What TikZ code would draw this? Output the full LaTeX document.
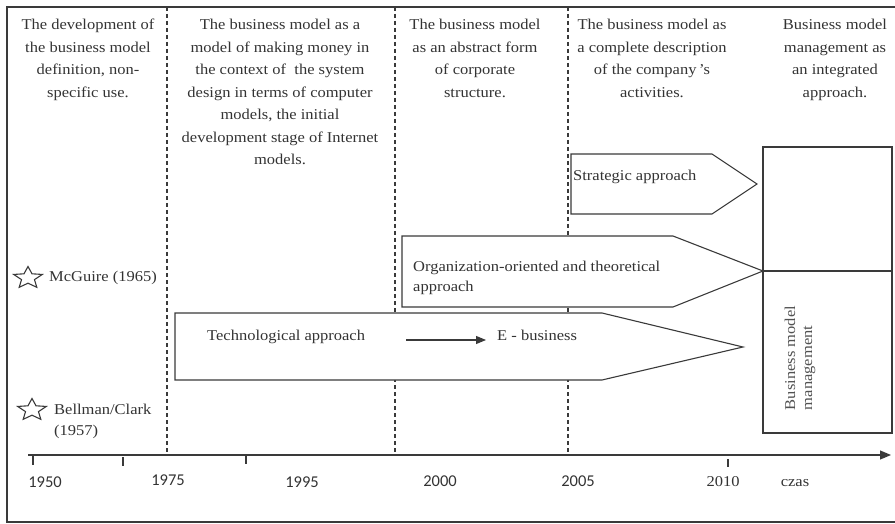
\documentclass[tikz,border=0pt]{standalone}
\usepackage{fontspec}
\setmainfont{Liberation Serif}[FakeStretch=1.1]
\newfontfamily\calib{Carlito}
\usetikzlibrary{arrows.meta}
\definecolor{ink}{HTML}{333333}
\definecolor{edge}{HTML}{3A3A3A}
\begin{document}
\begin{tikzpicture}[x=1pt, y=-1pt, line join=miter,
  font=\fontsize{15}{22.5}\selectfont, text=ink,
  hdr/.style={anchor=north, align=center, inner sep=0pt},
  lbl/.style={anchor=base west, inner sep=0pt},
  yr/.style={anchor=base, inner sep=0pt, font=\calib\fontsize{16.5}{20}\selectfont},
  yrs/.style={anchor=base, inner sep=0pt},
  shp/.style={draw=edge, line width=1.1pt, fill=white},
  sep/.style={draw=edge, line width=1.2pt, dash pattern=on 4pt off 3pt},
  axisline/.style={draw=edge, line width=1.2pt, -{Triangle[length=11pt,width=9pt]}},
  tick/.style={draw=edge, line width=1.1pt},
  starmark/.pic={\draw[edge, line width=1.1pt] plot[samples at={0,...,9}]
     ({(mod(\x,2)==0 ? 15 : 6.8)*cos(-90+36*\x)}, {(mod(\x,2)==0 ? 11.5 : 5.2)*sin(-90+36*\x)}) -- cycle;}
]
\useasboundingbox (0,0) rectangle (895,524);
% outer frame
\draw[edge, line width=1.3pt] (895,7) -- (7,7) -- (7,522) -- (895,522);
% dashed period separators
\draw[sep] (167,7) -- (167,455);
\draw[sep] (395,7) -- (395,455);
\draw[sep] (568,7) -- (568,455);
% headers
\node[hdr] (h1) at (88,19) {The development of\\the business model\\definition, non-\\specific use.};
\node[hdr] (h2) at (280,19) {The business model as a\\model of making money in\\the context of \ the system\\design in terms of computer\\models, the initial\\development stage of Internet\\models.};
\node[hdr] (h3) at (475,19) {The business model\\as an abstract form\\of corporate\\structure.};
\node[hdr] (h4) at (652,19) {The business model as\\a complete description\\of the company\,’s\\activities.};
\node[hdr] (h5) at (835,19) {Business model\\management as\\an integrated\\approach.};
% approach arrows
\draw[shp] (571,154) -- (712,154) -- (757,184) -- (712,214) -- (571,214) -- cycle;
\node[lbl] (strat) at (573,181) {Strategic approach};
\draw[shp] (402,236) -- (673,236) -- (763,271) -- (673,307) -- (402,307) -- cycle;
\node[anchor=north west, align=left, inner sep=0pt, font=\fontsize{15}{20}\selectfont] (org) at (413,260.5) {Organization-oriented and theoretical\\approach};
\draw[shp] (175,313) -- (602,313) -- (743,347) -- (602,380) -- (175,380) -- cycle;
\node[lbl] (tech) at (207,340) {Technological approach};
\node[lbl] (ebiz) at (497,340) {E - business};
\coordinate (e0) at (406,340);
\coordinate (e1) at (486,340);
\draw[edge, line width=1.1pt, -{Triangle[length=10pt,width=8pt]}] (e0) -- (e1);
% management box
\draw[shp] (763,147) rectangle (892,433);
\draw[edge, line width=1.1pt] (763,271) -- (892,271);
\node[rotate=90, align=left, inner sep=0pt, font=\fontsize{15}{17}\selectfont, text=ink!85] (bmm) at (800,358) {Business model\\management};
% authors
\pic (s1) at (28,278) {starmark};
\node[lbl] (mcg) at (49,281) {McGuire (1965)};
\pic (s2) at (32,410) {starmark};
\node[lbl, align=left, anchor=north west, font=\fontsize{15}{21}\selectfont] (bel) at (54,403.5) {Bellman/Clark\\(1957)};
% time axis
\coordinate (ax0) at (28,455);
\coordinate (ax1) at (891,455);
\draw[axisline] (ax0) -- (ax1);
\draw[tick] (33,455) -- (33,465);
\draw[tick] (123,457) -- (123,466);
\draw[tick] (246,455) -- (246,464);
\draw[tick] (728,459) -- (728,467);
\node[yr] (y1950) at (45,487) {1950};
\node[yr] (y1975) at (168,485) {1975};
\node[yr] (y1995) at (302,487) {1995};
\node[yr] (y2000) at (440,486) {2000};
\node[yr] (y2005) at (578,486) {2005};
\node[yrs] (y2010) at (723,486) {2010};
\node[yrs] (czas) at (795,486) {czas};
\end{tikzpicture}
\end{document}
